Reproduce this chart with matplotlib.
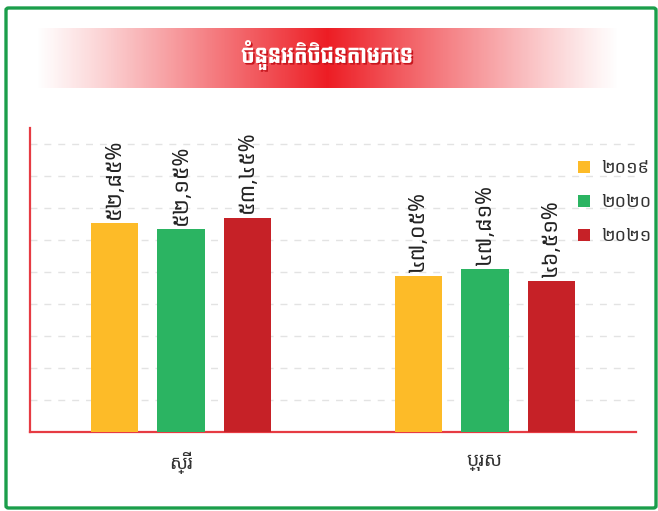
import numpy as np
import matplotlib
matplotlib.use("Agg")
import matplotlib.pyplot as plt
from matplotlib.patches import Patch, FancyBboxPatch
import matplotlib.patheffects as pe

# data
title = "ចំនួនអតិថិជនតាមភេទ"
categories = ["ស្រី", "ប្រុស"]
years = ["២០១៩", "២០២០", "២០២១"]
values = {
    "២០១៩": [52.85, 47.05],
    "២០២០": [52.15, 47.81],
    "២០២១": [53.45, 46.51],
}
value_labels = {
    "២០១៩": ["៥២,៨៥%", "៤៧,០៥%"],
    "២០២០": ["៥២,១៥%", "៤៧,៨១%"],
    "២០២១": ["៥៣,៤៥%", "៤៦,៥១%"],
}
colors = ["#fdbb28", "#2bb462", "#c62127"]

label_font = ["Noto Sans Khmer", "Battambang", "DejaVu Sans"]
title_font = ["Koulen", "Bayon", "DejaVu Sans"]

W, H = 658, 511
fig = plt.figure(figsize=(W / 100, H / 100), dpi=100)

# green frame
frame = FancyBboxPatch((6 / W, 3 / H), 650 / W, 500 / H,
                       boxstyle="round,pad=0,rounding_size=0.004",
                       transform=fig.transFigure, fill=False,
                       edgecolor="#1b9e4b", linewidth=2.4)
fig.patches.append(frame)

# title banner with gradient
bax = fig.add_axes([35 / W, (H - 88) / H, 585 / W, 60 / H])
t = np.linspace(-1, 1, 400)
a = (1 - np.abs(t)) ** 1.1
grad = np.ones((1, len(t), 4))
grad[0, :, 0] = 0.93
grad[0, :, 1] = 0.11
grad[0, :, 2] = 0.14
grad[0, :, 3] = a
bax.imshow(grad, aspect="auto", extent=[0, 1, 0, 1])
bax.set_axis_off()
bax.text(0.5, 0.55, title, color="white", fontsize=15, family=title_font,
         ha="center", va="center",
         path_effects=[pe.withSimplePatchShadow(offset=(1.2, -1.2), shadow_rgbFace="#c8161e", alpha=1.0)])

# main chart
ax = fig.add_axes([30 / W, (H - 432) / H, 606 / W, 304 / H])
x = np.arange(len(categories))
offset = 0.219
width = 0.155
for i, yr in enumerate(years):
    xs = x + (i - 1) * offset
    ax.bar(xs, values[yr], width=width, bottom=0, color=colors[i], zorder=3)
    for xx, v, lab in zip(xs, values[yr], value_labels[yr]):
        ax.annotate(lab, (xx, v), xytext=(0, 3), textcoords="offset points",
                    rotation=90, ha="center", va="bottom", fontsize=15.5,
                    family=label_font, color="#222222", zorder=4)

ax.set_xlim(-0.497, 1.497)
ax.set_ylim(30, 63.25)
for gy in np.arange(33.5, 62, 3.5):
    ax.axhline(gy, color="#e3e3e3", linewidth=1, linestyle=(0, (5, 5)), zorder=1)

ax.set_xticks(x)
ax.set_xticklabels(categories, family=label_font, fontsize=14, color="#333333")
ax.tick_params(axis="x", length=0, pad=14)
ax.set_yticks([])
for s in ["top", "right"]:
    ax.spines[s].set_visible(False)
ax.spines["left"].set_color("#e63b43")
ax.spines["bottom"].set_color("#e63b43")
ax.spines["left"].set_linewidth(1.6)
ax.spines["bottom"].set_linewidth(1.6)

handles = [Patch(facecolor=c, edgecolor="none") for c in colors]
leg = fig.legend(handles, years, loc="upper left",
                 bbox_to_anchor=(562 / W, 1 - 143 / H),
                 frameon=False, handlelength=0.65, handleheight=0.65,
                 handletextpad=0.6, labelspacing=0.88,
                 prop={"family": label_font, "size": 13})
for txt in leg.get_texts():
    txt.set_color("#333333")

fig.savefig("out.png", dpi=100)
